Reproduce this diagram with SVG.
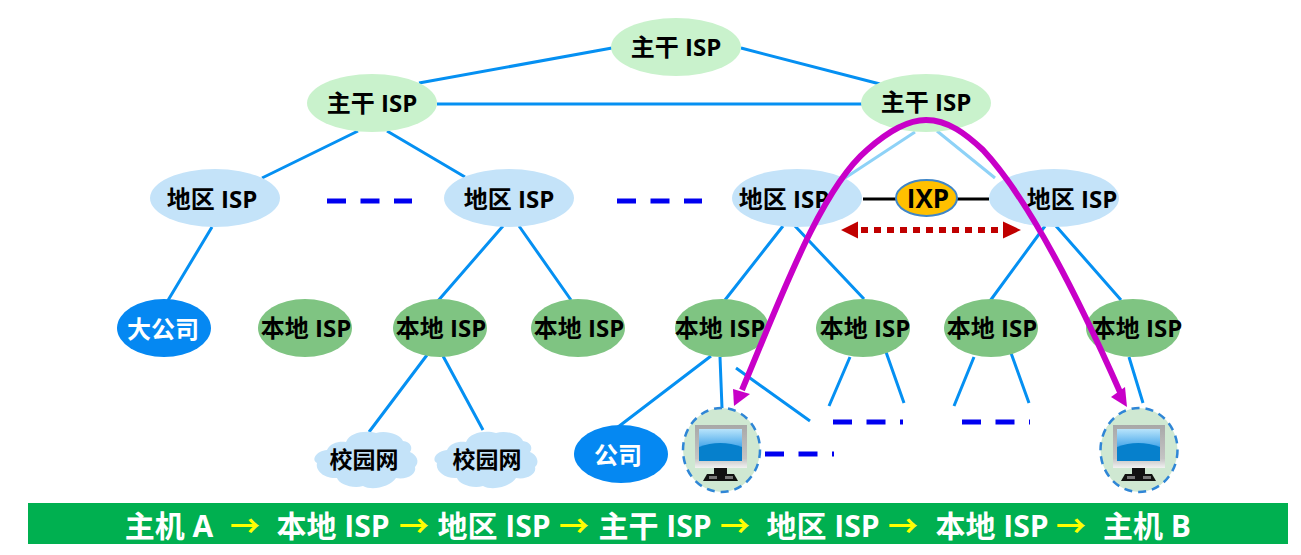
<svg xmlns="http://www.w3.org/2000/svg" width="1301" height="555" viewBox="0 0 1301 555">
<style>
text{font-family:"Open Sans","Noto Sans CJK SC","Noto Sans",sans-serif;font-weight:700;text-anchor:middle;fill:#000}
.l{font-size:24px}
.bb{fill:#c9f2cc}.rg{fill:#c4e3f9}.lo{fill:#7fc482}.co{fill:#0588f2}
.c{stroke:#0590f2;stroke-width:3;fill:none}
.f{stroke:#8ed2f7;stroke-width:3;fill:none}
.d{stroke:#0000f0;stroke-width:5;fill:none;stroke-dasharray:19 14.5}
.k{stroke:#000;stroke-width:3;fill:none}
.bar{font-size:30px;fill:#fff}
.y{fill:#ffff00}
.host{fill:#cfe8d2;stroke:#2f86d6;stroke-width:2.5;stroke-dasharray:8 6}
</style>
<defs>
<linearGradient id="sc" x1="0" y1="0" x2="0" y2="1"><stop offset="0" stop-color="#b8e4fb"/><stop offset=".55" stop-color="#4aa8ea"/><stop offset="1" stop-color="#2a90d8"/></linearGradient>
<linearGradient id="fr" x1="0" y1="0" x2="0" y2="1"><stop offset="0" stop-color="#a8a8a8"/><stop offset=".78" stop-color="#c4c4c4"/><stop offset="1" stop-color="#f2f2f2"/></linearGradient>
<g id="mon">
<rect x="-27" y="-31" width="52" height="43" fill="url(#fr)"/>
<rect x="-23" y="-27" width="43" height="32" fill="url(#sc)"/>
<path d="M-23 -9Q-2 -17 20 -9V5H-23Z" fill="#0680cc"/>
<rect x="-8" y="12" width="13" height="6" fill="#111"/>
<path d="M-15 18H12L16 25H-19Z" fill="#111"/>
<rect x="-13" y="20" width="8" height="3" fill="#777"/><rect x="3" y="20" width="8" height="3" fill="#777"/>
</g>
<path id="cl" d="M-39 -10C-36 -17-27-19-20-18C-16-28 0-30 10-27C20-30 34-26 37-19C45-18 47-12 44-8C51-5 54 2 49 7C51 14 41 20 30 18C24 27 6 31-3 26C-14 29-27 24-29 18C-41 19-51 11-49 3C-55 0-50-9-39-10Z" fill="#c4e3f9"/>
</defs>
<g id="connectors">
<path class="c" d="M612 48L419 83M741 48L880 84M437 104H862M358 131L262 178M387 131L465 177"/>
<path class="f" d="M915 132L845 178M937 131L995 178"/>
<path class="c" d="M212 227L167 302M503 226L437 302M519 226L571 300M783 226L725 300M795 226L864 299M1045 226L990 301M1056 226L1121 300"/>
<path class="c" d="M711 356L618 427M720 357L722 408M736 368L810 421M850 357L829 406M886 352L904 403M974 357L954 406M1011 353L1029 403M1129 357L1143 403M427 355L369 432M443 356L483 430"/>
<path class="d" d="M327 201H412M617 201H702M765 454H834M833 422H903M962 422H1030"/>
<path class="k" d="M863 199H896M957 199H989"/>
</g>
<g id="bk1"><ellipse class="bb" cx="676" cy="47" rx="65" ry="29"/><text class="l" x="676" y="56">主干 ISP</text></g>
<g id="bk2"><ellipse class="bb" cx="372" cy="103" rx="65" ry="29"/><text class="l" x="372" y="112">主干 ISP</text></g>
<g id="bk3"><ellipse class="bb" cx="926" cy="103" rx="65" ry="29"/><text class="l" x="926" y="111">主干 ISP</text></g>
<g id="rg1"><ellipse class="rg" cx="215" cy="198" rx="65" ry="29"/><text class="l" x="212" y="208">地区 ISP</text></g>
<g id="rg2"><ellipse class="rg" cx="509" cy="198" rx="65" ry="29"/><text class="l" x="509" y="208">地区 ISP</text></g>
<g id="rg3"><ellipse class="rg" cx="797" cy="198" rx="65" ry="29"/><text class="l" x="784" y="208">地区 ISP</text></g>
<g id="rg4"><ellipse class="rg" cx="1054" cy="198" rx="65" ry="29"/><text class="l" x="1072" y="208">地区 ISP</text></g>
<g id="ixp"><ellipse cx="926.500" cy="198" rx="30.500" ry="18" fill="#ffc000" stroke="#3f86c8" stroke-width="2"/><text x="928" y="208" style="font-size:26px">IXP</text></g>
<g id="co1"><ellipse class="co" cx="164" cy="328" rx="47" ry="29"/><text class="l" x="163" y="338" style="fill:#fff">大公司</text></g>
<g id="lo1"><ellipse class="lo" cx="305" cy="328" rx="47" ry="29"/><text class="l" x="306" y="337">本地 ISP</text></g>
<g id="lo2"><ellipse class="lo" cx="440" cy="328" rx="47" ry="29"/><text class="l" x="441" y="337">本地 ISP</text></g>
<g id="lo3"><ellipse class="lo" cx="578" cy="328" rx="47" ry="29"/><text class="l" x="579" y="337">本地 ISP</text></g>
<g id="lo4"><ellipse class="lo" cx="722" cy="328" rx="47" ry="29"/><text class="l" x="720" y="337">本地 ISP</text></g>
<g id="lo5"><ellipse class="lo" cx="863" cy="328" rx="47" ry="29"/><text class="l" x="865" y="337">本地 ISP</text></g>
<g id="lo6"><ellipse class="lo" cx="991" cy="328" rx="47" ry="29"/><text class="l" x="992" y="337">本地 ISP</text></g>
<g id="lo7"><ellipse class="lo" cx="1133" cy="328" rx="47" ry="29"/><text class="l" x="1137" y="337">本地 ISP</text></g>
<g id="cl1"><use href="#cl" x="366" y="460"/><text x="364" y="468" style="font-size:23px">校园网</text></g>
<g id="cl2"><use href="#cl" x="486" y="460"/><text x="487" y="468" style="font-size:23px">校园网</text></g>
<g id="co2"><ellipse class="co" cx="621" cy="454" rx="47" ry="29"/><text class="l" x="618" y="464" style="fill:#fff">公司</text></g>
<g id="hostA"><ellipse class="host" cx="721.500" cy="450" rx="38.500" ry="42"/><use href="#mon" x="722" y="456"/></g>
<g id="hostB"><ellipse class="host" cx="1139" cy="450" rx="38.500" ry="42"/><use href="#mon" x="1140" y="456"/></g>
<g id="path">
<path d="M742 390C780 300 820 190 867 150C885 134 905 120 926 120C948 120 966 134 983 150C1025 195 1075 290 1120 392" fill="none" stroke="#c800c8" stroke-width="6"/>
<path d="M734 406L733 389L750 394Z" fill="#c800c8"/>
<path d="M1127 407L1111 397L1125 387Z" fill="#c800c8"/>
<path d="M861 230H1004" fill="none" stroke="#c00000" stroke-width="6" stroke-dasharray="7 6"/>
<path d="M841 230L858 221.500V238.500ZM1021 230L1003 221.500V238.500Z" fill="#c00000"/>
</g>
<g id="bar"><rect x="28" y="503" width="1260" height="41" fill="#00b050"/>
<text class="bar" y="537"><tspan x="169">主机 A</tspan><tspan class="y" x="245">→</tspan><tspan x="333">本地 ISP</tspan><tspan class="y" x="414">→</tspan><tspan x="494">地区 ISP</tspan><tspan class="y" x="574">→</tspan><tspan x="655">主干 ISP</tspan><tspan class="y" x="735">→</tspan><tspan x="823">地区 ISP</tspan><tspan class="y" x="903">→</tspan><tspan x="992">本地 ISP</tspan><tspan class="y" x="1071">→</tspan><tspan x="1147">主机 B</tspan></text></g>
</svg>
